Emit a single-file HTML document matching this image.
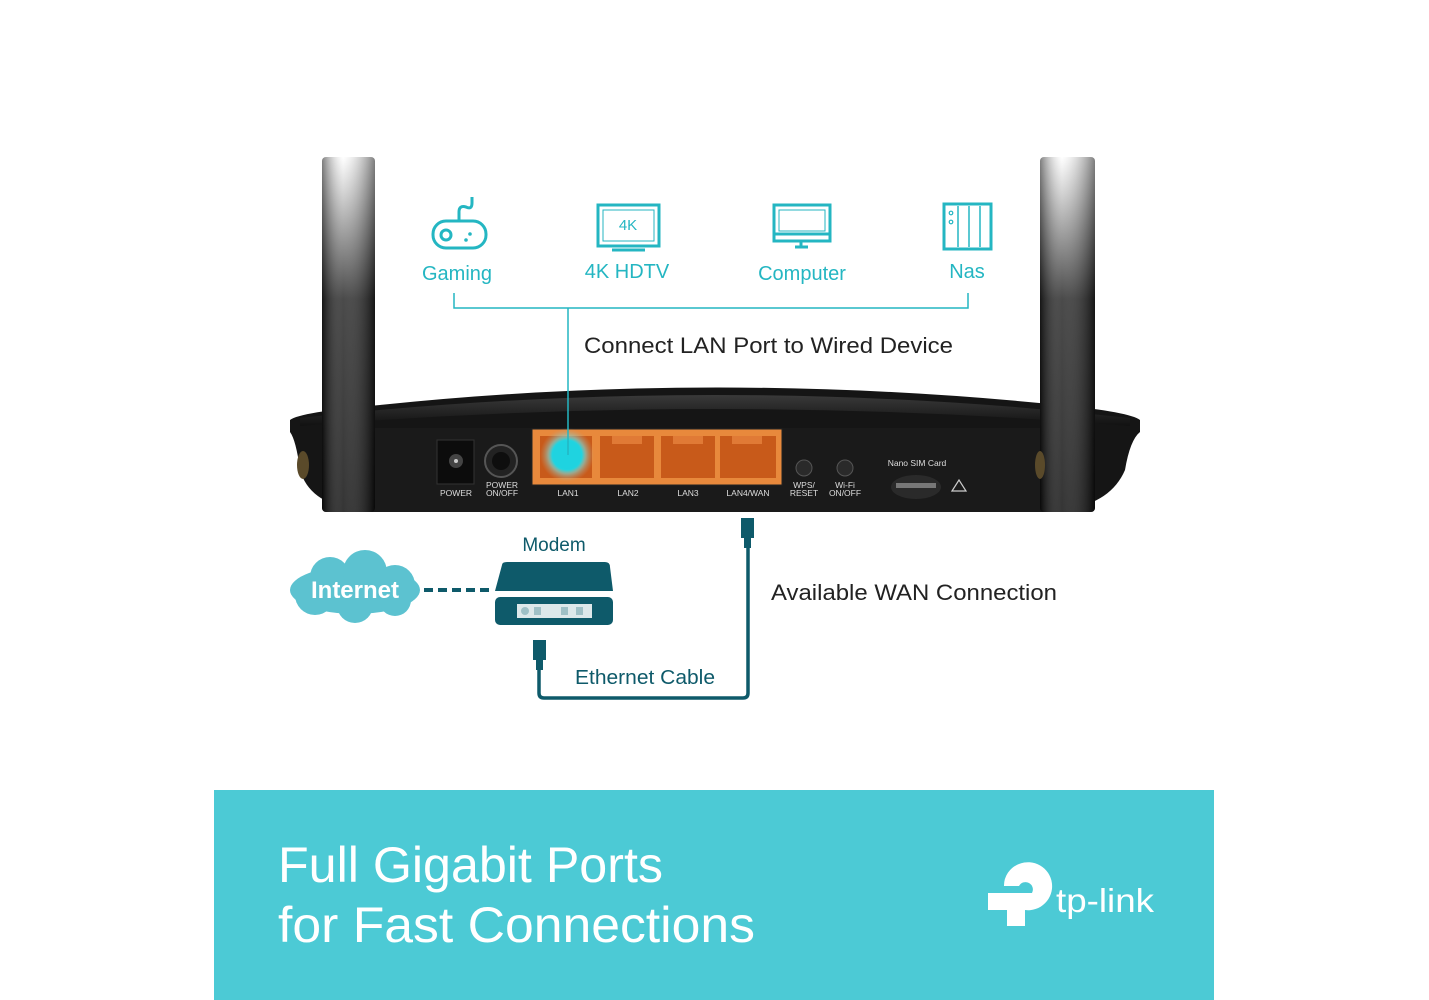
<!DOCTYPE html>
<html><head><meta charset="utf-8"><style>
html,body{margin:0;padding:0;background:#fff;}
svg{display:block;}
text{font-family:"Liberation Sans",sans-serif;}
</style></head><body>
<svg width="1429" height="1000" viewBox="0 0 1429 1000" xmlns="http://www.w3.org/2000/svg">
<defs>
<linearGradient id="ant" x1="0" y1="0" x2="0" y2="1">
<stop offset="0" stop-color="#fff"/>
<stop offset="0.1" stop-color="#ccc"/>
<stop offset="0.4" stop-color="#2a2a2a"/>
<stop offset="1" stop-color="#111"/>
</linearGradient>
<linearGradient id="antH" x1="0" y1="0" x2="1" y2="0">
<stop offset="0" stop-color="#000" stop-opacity="0.5"/>
<stop offset="0.4" stop-color="#fff" stop-opacity="0.15"/>
<stop offset="1" stop-color="#000" stop-opacity="0.5"/>
</linearGradient>
<linearGradient id="top" x1="0" y1="0" x2="0" y2="1">
<stop offset="0" stop-color="#3a3a3a"/>
<stop offset="1" stop-color="#111"/>
</linearGradient>
<radialGradient id="glow"><stop offset="0" stop-color="#21d4e0"/><stop offset="0.55" stop-color="#21d4e0"/><stop offset="0.7" stop-color="#7fd8d8" stop-opacity="0.6"/><stop offset="1" stop-color="#c0a080" stop-opacity="0"/></radialGradient>
</defs>

<path d="M290 420 Q300 412 380 405 Q715 370 1060 405 Q1130 412 1140 420 L1140 432 Q1130 440 1125 470 Q1110 505 1060 510 L360 510 Q310 505 300 470 Q296 440 290 432 Z" fill="#151515"/>
<path d="M300 418 Q715 372 1130 418 L1130 426 Q715 392 300 426 Z" fill="url(#top)"/>
<rect x="345" y="428" width="740" height="84" fill="#1a1a1a"/>
<rect x="322" y="157" width="53" height="355" rx="4" fill="url(#ant)"/>
<rect x="322" y="157" width="53" height="355" rx="4" fill="url(#antH)"/>
<rect x="1040" y="157" width="55" height="355" rx="4" fill="url(#ant)"/>
<rect x="1040" y="157" width="55" height="355" rx="4" fill="url(#antH)"/>
<ellipse cx="303" cy="465" rx="6" ry="14" fill="#5a4a2a"/>
<ellipse cx="1040" cy="465" rx="5" ry="14" fill="#5a4a2a"/>
<rect x="437" y="440" width="37" height="44" fill="#0c0c0c" stroke="#333"/>
<circle cx="456" cy="461" r="7" fill="#444"/><circle cx="456" cy="461" r="2" fill="#ccc"/>
<circle cx="501" cy="461" r="16" fill="#222" stroke="#555" stroke-width="2"/>
<circle cx="501" cy="461" r="9" fill="#0e0e0e"/>
<rect x="532" y="429" width="250" height="56" fill="#e8893c" stroke="#222"/>
<g fill="#c85a1a">
<rect x="540" y="436" width="52" height="42"/>
<rect x="600" y="436" width="54" height="42"/>
<rect x="661" y="436" width="54" height="42"/>
<rect x="720" y="436" width="56" height="42"/>
</g>
<g fill="#e07a36">
<rect x="612" y="436" width="30" height="8"/><rect x="673" y="436" width="30" height="8"/><rect x="732" y="436" width="30" height="8"/>
</g>
<circle cx="567" cy="455" r="27" fill="url(#glow)"/>
<circle cx="567" cy="455" r="14" fill="#1fd3e0"/>
<circle cx="804" cy="468" r="8" fill="#2a2a2a" stroke="#555"/>
<circle cx="845" cy="468" r="8" fill="#2a2a2a" stroke="#555"/>
<ellipse cx="916" cy="487" rx="25" ry="12" fill="#2a2a2a"/>
<rect x="896" y="483" width="40" height="5" fill="#777"/>
<path d="M952 491 L959 480 L966 491 Z" fill="none" stroke="#ccc" stroke-width="1.2"/>
<g fill="#ddd" font-size="8.5" text-anchor="middle">
<text x="456" y="496">POWER</text>
<text x="502" y="488">POWER</text><text x="502" y="496">ON/OFF</text>
<text x="568" y="496">LAN1</text><text x="628" y="496">LAN2</text><text x="688" y="496">LAN3</text><text x="748" y="496">LAN4/WAN</text>
<text x="804" y="488">WPS/</text><text x="804" y="496">RESET</text>
<text x="845" y="488">Wi-Fi</text><text x="845" y="496">ON/OFF</text>
<text x="917" y="466">Nano SIM Card</text>
</g>

<g stroke="#24b6c2" stroke-width="3" fill="none">
<rect x="433" y="221" width="53" height="27" rx="13"/>
<circle cx="446" cy="235" r="5"/>
<path d="M459 221 L459 212 Q459 205 466 207 Q472 210 472 203 L472 197"/>
<rect x="598" y="205" width="61" height="41"/>
<rect x="603" y="210" width="51" height="31" stroke-width="1"/>
<line x1="612" y1="250" x2="645" y2="250"/>
<rect x="774" y="205" width="56" height="36"/>
<rect x="779" y="210" width="46" height="21" stroke-width="1"/>
<line x1="774" y1="234" x2="830" y2="234"/>
<line x1="801" y1="241" x2="801" y2="247"/><line x1="795" y1="247" x2="808" y2="247"/>
<rect x="944" y="204" width="47" height="45"/>
<line x1="958" y1="206" x2="958" y2="247" stroke-width="1.5"/>
<line x1="969" y1="206" x2="969" y2="247" stroke-width="1.5"/>
<line x1="980" y1="206" x2="980" y2="247" stroke-width="1.5"/>
</g>
<g fill="#24b6c2"><circle cx="470" cy="234" r="1.8"/><circle cx="466" cy="240" r="1.8"/></g>
<g stroke="#24b6c2" stroke-width="1.2" fill="none"><circle cx="951" cy="213" r="1.8"/><circle cx="951" cy="222" r="1.8"/></g>
<text x="628" y="230" fill="#24b6c2" font-size="15" text-anchor="middle">4K</text>
<g fill="#24b6c2" font-size="20" text-anchor="middle">
<text x="457" y="280">Gaming</text>
<text x="627" y="278">4K HDTV</text>
<text x="802" y="280">Computer</text>
<text x="967" y="278">Nas</text>
</g>
<path d="M454 293 L454 308 L968 308 L968 293" stroke="#24b6c2" stroke-width="1.5" fill="none"/>
<line x1="568" y1="308" x2="568" y2="455" stroke="#24b6c2" stroke-width="1.5"/>
<text x="584" y="353" font-size="22" fill="#222" textLength="369" lengthAdjust="spacingAndGlyphs">Connect LAN Port to Wired Device</text>

<g fill="#5cc2d0">
<ellipse cx="355" cy="590" rx="65" ry="24"/>
<circle cx="330" cy="577" r="20"/><circle cx="365" cy="572" r="22"/><circle cx="395" cy="585" r="20"/>
<circle cx="315" cy="595" r="20"/><circle cx="355" cy="605" r="18"/><circle cx="395" cy="600" r="16"/>
</g>
<text x="355" y="598" font-size="24" font-weight="bold" fill="#fff" text-anchor="middle">Internet</text>
<line x1="424" y1="590" x2="490" y2="590" stroke="#0e5a6a" stroke-width="4" stroke-dasharray="9,5"/>
<path d="M502 565 Q502 562 507 562 L605 562 Q610 562 610 567 L613 591 L495 591 Z" fill="#0e5a6a"/>
<rect x="495" y="597" width="118" height="28" rx="5" fill="#0e5a6a"/>
<rect x="517" y="604" width="75" height="14" fill="#dde8ea"/>
<g fill="#9fc0c6"><circle cx="525" cy="611" r="4"/><rect x="534" y="607" width="7" height="8"/><rect x="561" y="607" width="7" height="8"/><rect x="576" y="607" width="7" height="8"/></g>
<text x="554" y="551" font-size="19" fill="#0e5a6a" text-anchor="middle">Modem</text>
<rect x="533" y="640" width="13" height="20" fill="#0e5a6a"/>
<rect x="536" y="660" width="7" height="10" fill="#0e5a6a"/>
<rect x="741" y="518" width="13" height="20" fill="#0e5a6a"/>
<rect x="744" y="538" width="7" height="10" fill="#0e5a6a"/>
<path d="M539 668 L539 693 Q539 698 544 698 L743 698 Q748 698 748 693 L748 546" stroke="#0e5a6a" stroke-width="3.5" fill="none"/>
<text x="575" y="684" font-size="20" fill="#0e5a6a" textLength="140" lengthAdjust="spacingAndGlyphs">Ethernet Cable</text>
<text x="771" y="600" font-size="22" fill="#222" textLength="286" lengthAdjust="spacingAndGlyphs">Available WAN Connection</text>

<rect x="214" y="790" width="1000" height="210" fill="#4ccad5"/>
<text x="278" y="882" font-size="50" fill="#fff" textLength="385" lengthAdjust="spacingAndGlyphs">Full Gigabit Ports</text>
<text x="278" y="942" font-size="50" fill="#fff" textLength="477" lengthAdjust="spacingAndGlyphs">for Fast Connections</text>
<!-- logo -->
<path d="M1019 864 A24 24 0 1 1 1025 910 L1025 926 L1007 926 L1007 910 L988 910 L988 893 L1019 893 L1032 893 A7 7 0 1 0 1019 886 L1004 886 A23 23 0 0 1 1019 864 Z" fill="#fff"/>
<text x="1056" y="912" font-size="33" fill="#fff" textLength="98" lengthAdjust="spacingAndGlyphs">tp-link</text>
</svg>
</body></html>
